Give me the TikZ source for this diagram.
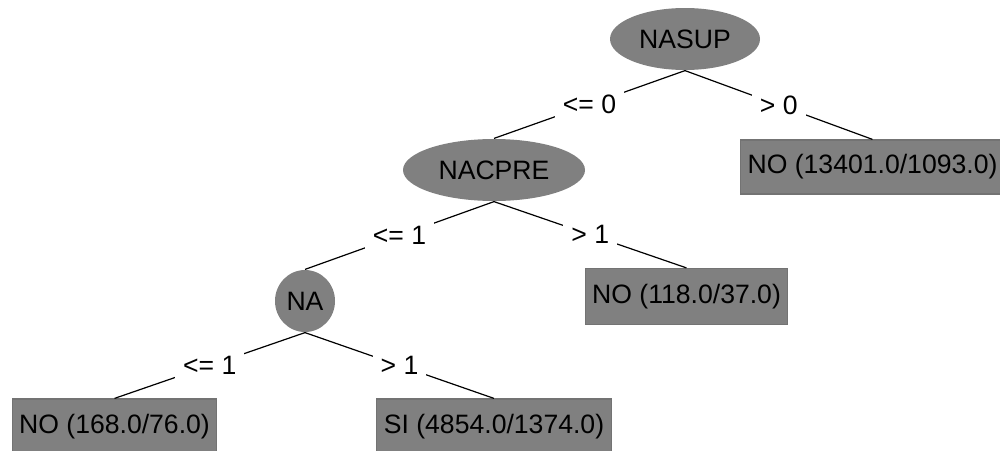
\documentclass[tikz,border=0pt]{standalone}
\usepackage{fontspec}
\setmainfont{Liberation Sans}
\usetikzlibrary{shapes.geometric}
\definecolor{nodegray}{RGB}{128,128,128}

\begin{document}
\begin{tikzpicture}[x=0.5pt, y=-0.5pt, line width=0.6pt,
  every node/.style={font=\fontsize{13.3}{16}\selectfont},
  split/.style={ellipse, fill=nodegray, inner sep=0pt, minimum height=31pt},
  leaf/.style={rectangle, fill=nodegray, draw=black!55, inner xsep=3.5pt, minimum height=28pt},
  cond/.style={fill=white, inner sep=4pt}]

\useasboundingbox (0,0) rectangle (1000,450);

\node (nasup)  at (685,39)    [split, minimum width=75pt] {NASUP};
\node (nacpre) at (494,170)   [split, minimum width=91pt] {NACPRE};
\node (na)     at (305,301)   [split, minimum width=30pt] {NA};
\node (noA)    at (872.5,167) [leaf, minimum height=27pt] {NO (13401.0/1093.0)};
\node (noB)    at (686.5,296.5) [leaf] {NO (118.0/37.0)};
\node (noC)    at (114.5,427) [leaf] {NO (168.0/76.0)};
\node (si)     at (494,427)   [leaf] {SI (4854.0/1374.0)};

\draw (nasup.south)  -- node [cond] {<= 0} (nacpre.north);
\draw (nasup.south)  -- node [cond] {> 0}  (noA.north);
\draw (nacpre.south) -- node [cond] {<= 1} (na.north);
\draw (nacpre.south) -- node [cond] {> 1}  (noB.north);
\draw (na.south)     -- node [cond] {<= 1} (noC.north);
\draw (na.south)     -- node [cond] {> 1}  (si.north);
\end{tikzpicture}
\end{document}
